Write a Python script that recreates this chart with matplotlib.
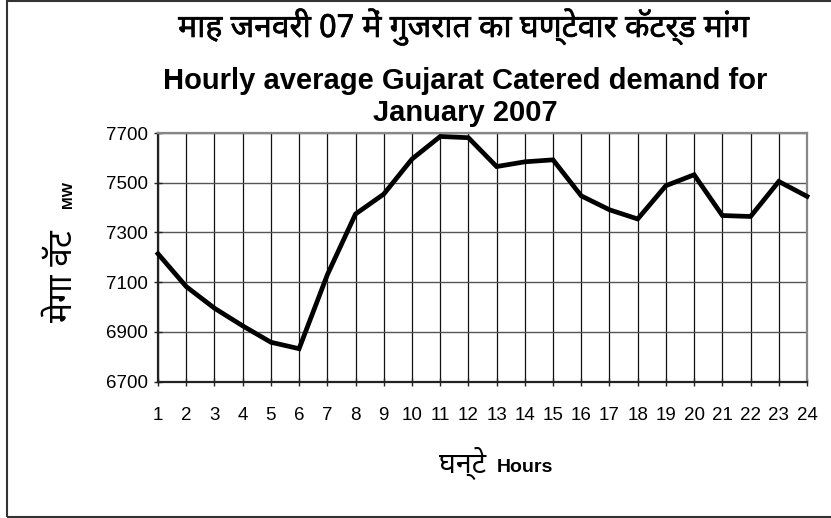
import numpy as np
import matplotlib
matplotlib.use("Agg")
from matplotlib import pyplot as plt
from matplotlib import font_manager as fm
from matplotlib import patheffects as pe
from matplotlib.ft2font import FT2Font
from matplotlib.patches import Rectangle

hours = list(range(1, 25))
demand = [7214, 7082, 6995, 6924, 6858, 6832, 7129, 7374, 7454, 7595,
          7686, 7681, 7565, 7584, 7592, 7447, 7391, 7354, 7488, 7532,
          7368, 7364, 7505, 7445]
y_ticks = [6700, 6900, 7100, 7300, 7500, 7700]

title_hi = "माह जनवरी 07 में गुजरात का घण्टेवार कॅटर्ड मांग"
title_en = "Hourly average Gujarat Catered demand for\nJanuary 2007"
ylabel_hi = "मेगा वॅट"
ylabel_en = "MW"
xlabel_hi = "घन्टे"
xlabel_en = "Hours"


def deva_families():
    found = []
    for f in fm.fontManager.ttflist:
        try:
            if ord("म") in FT2Font(f.fname).get_charmap():
                found.append(f.name)
        except Exception:
            pass
    return found


cands = deva_families()
deva = None
for pref in ["Noto Sans Devanagari", "Lohit Devanagari", "Mangal",
             "FreeSans", "Gargi", "Kalimati", "Samanata", "FreeSerif"]:
    if pref in cands:
        deva = pref
        break
if deva is None:
    others = [c for c in cands if "mono" not in c.lower()]
    if others:
        deva = others[0]
    elif cands:
        deva = cands[0]
hi_family = [deva, "DejaVu Sans"] if deva else ["DejaVu Sans"]

plt.rcParams["font.family"] = ["Liberation Sans", "DejaVu Sans"]

fig = plt.figure(figsize=(8.31, 5.18), dpi=100)
W, H = 831, 518
ax = fig.add_axes([158 / W, 1 - 381.5 / H, (807 - 158) / W, (381.5 - 133) / H])

ax.plot(hours, demand, color="black", lw=3.4, solid_joinstyle="miter",
        zorder=3, clip_on=False)

ax.set_xlim(1, 24)
ax.set_ylim(6700, 7700)
ax.set_xticks(hours)
ax.set_yticks(y_ticks)
ax.tick_params(labelsize=13.5, length=6, width=1, color="#222222",
               direction="inout")
ax.tick_params(axis="x", pad=15)
ax.tick_params(axis="y", pad=4)
ax.xaxis.grid(True, color="#111111", lw=0.9)
ax.yaxis.grid(True, color="#555555", lw=1.0)
ax.set_axisbelow(True)
for side in ["top", "right"]:
    ax.spines[side].set_color("#888888")
    ax.spines[side].set_linewidth(1.6)
for side in ["left", "bottom"]:
    ax.spines[side].set_color("#222222")
    ax.spines[side].set_linewidth(1.6)

# a thin stroke to get the heavier look of the hindi title
heavy = [pe.withStroke(linewidth=0.45, foreground="black")]

# titles
t1 = fig.text(464 / W, 1 - 27 / H, title_hi, ha="center", va="center",
              fontsize=20, family=hi_family, path_effects=heavy)
fig.text(465 / W, 1 - 97 / H, title_en, ha="center", va="center",
         fontsize=21, fontweight="bold", linespacing=1.2)

# y label
t2 = fig.text(64 / W, 1 - 276 / H, ylabel_hi, rotation=90, ha="center",
              va="center", fontsize=20, family=hi_family)
fig.text(68 / W, 1 - 195 / H, ylabel_en, rotation=90, ha="center",
         va="center", fontsize=11, fontweight="bold")

# x label
t3 = fig.text(463 / W, 1 - 463 / H, xlabel_hi, ha="center", va="center",
              fontsize=20, family=hi_family)
fig.text(525 / W, 1 - 467 / H, xlabel_en, ha="center", va="center",
         fontsize=14, fontweight="bold")

# shrink the hindi texts to the size they take in the chart
fig.canvas.draw()
r = fig.canvas.get_renderer()
for t, size, vertical in [(t1, 572, False), (t2, 92, True), (t3, 47, False)]:
    bb = t.get_window_extent(r)
    cur = bb.height if vertical else bb.width
    t.set_fontsize(t.get_fontsize() * size / cur)

fig.patches.append(Rectangle((6.5 / W, 1.5 / H), 1.0, 1 - 2.5 / H,
                             transform=fig.transFigure, fill=False,
                             edgecolor="#333333", lw=1.5))

fig.savefig("out.png", dpi=100)
